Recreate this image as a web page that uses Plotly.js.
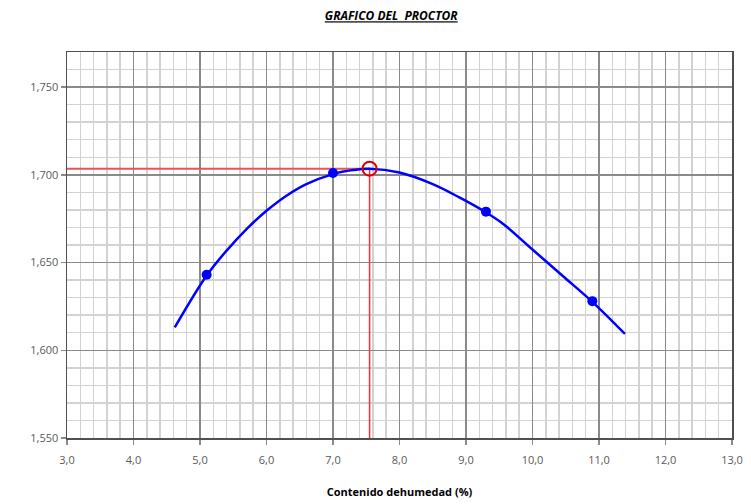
<!DOCTYPE html>
<html>
<head>
<meta charset="utf-8">
<script src="https://cdn.plot.ly/plotly-3.0.1.min.js"></script>
<style>html,body{margin:0;padding:0;background:#fff;}#chart{width:751px;height:504px;}</style>
</head>
<body>
<div id="chart"></div>
<script>
// Measured points (moisture %, dry density)
const pointsX = [5.1, 7.0, 9.3, 10.9];
const pointsY = [1.643, 1.701, 1.679, 1.628];

// Trend curve
const curveX = [4.62, 5.10, 5.40, 5.70, 6.00, 6.30, 6.60, 7.00, 7.30, 7.55, 8.00, 8.50, 8.90, 9.30, 9.56, 10.00, 10.46, 10.90, 11.39];
const curveY = [1.6130, 1.6426, 1.6568, 1.6691, 1.6795, 1.6881, 1.6947, 1.7004, 1.7027, 1.7035, 1.7013, 1.6947, 1.6871, 1.6786, 1.6720, 1.6574, 1.6422, 1.6276, 1.6093];

// Optimum (maximum dry density)
const optX = [7.55];
const optY = [1.7035];

// Axis extents
const xRange = [3.0, 13.0];
const yRange = [1.55, 1.77];

const textGray = '#595959';
const font = 'Open Sans, Lato, sans-serif';

const traces = [
  {
    x: [xRange[0], optX[0]], y: [optY[0], optY[0]],
    mode: 'lines', line: {color: '#f05050', width: 2}, hoverinfo: 'skip', showlegend: false
  },
  {
    x: [optX[0], optX[0]], y: [optY[0], yRange[0]],
    mode: 'lines', line: {color: '#f03030', width: 1.5}, hoverinfo: 'skip', showlegend: false
  },
  {
    x: curveX, y: curveY, mode: 'lines', line: {color: '#0000ff', width: 2.5, shape: 'spline', smoothing: 1},
    showlegend: false
  },
  {
    x: pointsX, y: pointsY, mode: 'markers', marker: {color: '#0000ff', size: 10},
    showlegend: false
  },
  {
    x: optX, y: optY, mode: 'markers',
    marker: {symbol: 'circle-open', color: '#e00000', size: 14, line: {width: 2, color: '#e00000'}},
    showlegend: false
  }
];

const layout = {
  width: 751, height: 504,
  margin: {l: 67, r: 19, t: 52, b: 66},
  paper_bgcolor: '#fff', plot_bgcolor: '#fff',
  separators: ',.',
  title: {
    text: '<b><i><u>GRAFICO DEL  PROCTOR</u></i></b>',
    font: {family: font, size: 12, color: '#000'},
    x: 0.521, xanchor: 'center', y: 0.968, yanchor: 'middle'
  },
  xaxis: {
    range: xRange, dtick: 1, tick0: 3, tickformat: '.1f',
    showgrid: true, gridcolor: '#8a8a8a', gridwidth: 1.5,
    minor: {dtick: 0.2, showgrid: true, gridcolor: '#d2d2d2', gridwidth: 1.5},
    showline: true, linecolor: '#505050', linewidth: 1.5, mirror: true,
    ticks: 'outside', ticklen: 5, tickcolor: '#8a8a8a', tickwidth: 1.5,
    ticklabelstandoff: 6,
    tickfont: {family: font, size: 11, color: textGray},
    zeroline: false,
    title: {text: '<b>Contenido dehumedad (%)</b>', font: {family: font, size: 11, color: '#000'}, standoff: 22}
  },
  yaxis: {
    range: yRange, dtick: 0.05, tick0: 1.55, tickformat: '.3f',
    showgrid: true, gridcolor: '#8a8a8a', gridwidth: 1.5,
    minor: {dtick: 0.01, showgrid: true, gridcolor: '#d2d2d2', gridwidth: 1.5},
    showline: true, linecolor: '#505050', linewidth: 1.5, mirror: true,
    ticks: 'outside', ticklen: 5, tickcolor: '#8a8a8a', tickwidth: 1.5,
    tickfont: {family: font, size: 11, color: textGray},
    zeroline: false
  }
};

Plotly.newPlot('chart', traces, layout, {displayModeBar: false, staticPlot: true});
</script>
</body>
</html>
